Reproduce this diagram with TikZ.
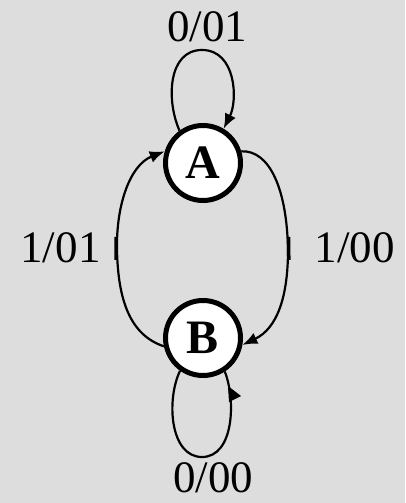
\documentclass[tikz,border=0pt]{standalone}
\usepackage{fontspec}
\setmainfont{Liberation Serif}
\usetikzlibrary{arrows.meta}
\definecolor{bg}{RGB}{221,221,221}
\tikzset{
  state/.style={circle, draw=black, line width=5bp, fill=white, minimum size=75bp, inner sep=0pt, font=\fontsize{48bp}{56bp}\selectfont\bfseries},
  edge/.style={line width=2.2bp, draw=black},
  arr/.style={-{Latex[length=15bp,width=12bp]}},
  lbl/.style={anchor=base, inner sep=0pt, font=\fontsize{45bp}{52bp}\selectfont},
  tick/.style={line width=3.5bp}
}
\begin{document}
\begin{tikzpicture}[x=1bp,y=-1bp]
\fill[bg] (0,0) rectangle (405,503);
\useasboundingbox (0,0) rectangle (405,503);
\node[state] (A) at (203,163) {A};
\node[state] (B) at (203,338) {B};
% self loop A
\draw[edge,arr] (A.126) .. controls (166,100) and (168,50) .. (202,50) .. controls (236,50) and (238,100) .. (A.59);
% A -> B
\draw[edge,arr] (A.17) .. controls (270,150) and (287,190) .. (288,250) .. controls (288,295) and (278,328) .. (B.-10);
% B -> A
\draw[edge,arr] (B.192) .. controls (130,335) and (118,300) .. (117,250) .. controls (116,205) and (130,165) .. (A.163);
% self loop B
\draw[edge] (B.235) .. controls (166,400) and (170,457) .. (202,457) .. controls (234,457) and (236,400) .. (B.303);
\fill (228,386) -- (241,396) -- (229,402) -- cycle;
% ticks
\draw[tick] (288.5,237) -- (288.8,260);
\draw[tick] (116.2,237) -- (116.0,260);
% labels
\node[lbl] (l1) at (207,42) {0/01};
\node[lbl] (l2) at (60.5,262) {1/01};
\node[lbl] (l3) at (354.5,262) {1/00};
\node[lbl] (l4) at (213,492) {0/00};
\end{tikzpicture}
\end{document}
